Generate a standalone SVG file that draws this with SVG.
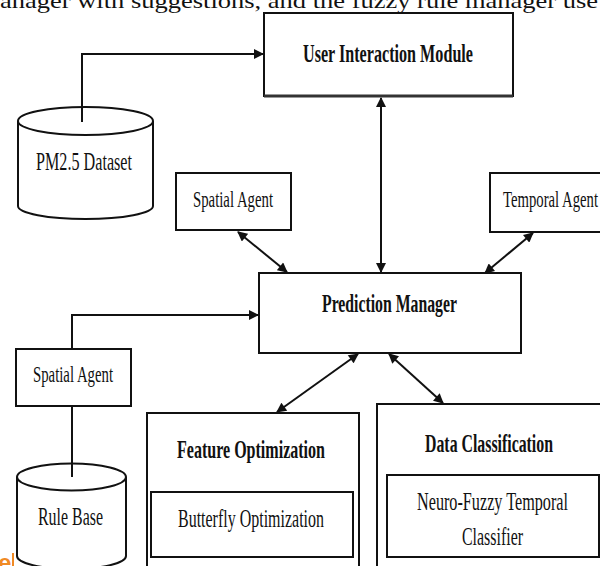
<svg xmlns="http://www.w3.org/2000/svg" width="600" height="566" viewBox="0 0 600 566">
  <style>
    .box { fill: #ffffff; stroke: #111111; stroke-width: 2; }
    .cyl { fill: #ffffff; stroke: #111111; stroke-width: 2; }
    .lbl { font-family: "Liberation Serif", "Times New Roman", serif; fill: #111111; }
    .bold { font-weight: bold; }
    .wire { fill: none; stroke: #111111; stroke-width: 2; }
  </style>
  <defs>
    <marker id="head" viewBox="0 0 10 10" refX="9" refY="5" markerWidth="11" markerHeight="10" markerUnits="userSpaceOnUse" orient="auto-start-reverse">
      <path d="M0,0 L10,5 L0,10 Z" fill="#111111"/>
    </marker>
  </defs>

  <rect width="600" height="566" fill="#ffffff"/>

  <!-- running text line above the figure -->
  <text class="lbl" x="0" y="8" font-size="22" textLength="598" lengthAdjust="spacingAndGlyphs">anager with suggestions, and the fuzzy rule manager use</text>

  <!-- connectors -->
  <g id="connectors">
    <path class="wire" d="M82,122 V54 H263" marker-end="url(#head)"/>
    <line class="wire" x1="381" y1="98" x2="381" y2="272" marker-start="url(#head)" marker-end="url(#head)"/>
    <line class="wire" x1="238" y1="232" x2="287" y2="272" marker-start="url(#head)" marker-end="url(#head)"/>
    <line class="wire" x1="533" y1="233" x2="485" y2="273" marker-start="url(#head)" marker-end="url(#head)"/>
    <line class="wire" x1="358" y1="354" x2="277" y2="412" marker-start="url(#head)" marker-end="url(#head)"/>
    <line class="wire" x1="389" y1="354" x2="443" y2="403" marker-start="url(#head)" marker-end="url(#head)"/>
    <path class="wire" d="M72,349 V315 H258" marker-end="url(#head)"/>
    <line class="wire" x1="72" y1="406" x2="72" y2="477"/>
  </g>

  <g id="user-interaction">
    <rect class="box" x="264" y="13" width="249" height="83"/>
    <line x1="264" y1="96" x2="513" y2="96" stroke="#333333" stroke-width="3"/>
    <text class="lbl bold" x="303" y="62" font-size="26" textLength="170" lengthAdjust="spacingAndGlyphs">User Interaction Module</text>
  </g>

  <g id="pm25-dataset">
    <path class="cyl" d="M18,121 V206 A67.5,13 0 0 0 153,206 V121"/>
    <ellipse class="cyl" cx="85.5" cy="121" rx="67.5" ry="14"/>
    <line class="wire" x1="82" y1="107" x2="82" y2="122"/>
    <text class="lbl" x="36" y="170" font-size="25" textLength="96" lengthAdjust="spacingAndGlyphs">PM2.5 Dataset</text>
  </g>

  <g id="spatial-agent-top">
    <rect class="box" x="176" y="173" width="115" height="57"/>
    <text class="lbl" x="193" y="207" font-size="23" textLength="80" lengthAdjust="spacingAndGlyphs">Spatial Agent</text>
  </g>

  <g id="temporal-agent">
    <rect class="box" x="490" y="173" width="114" height="59"/>
    <text class="lbl" x="503" y="207" font-size="23" textLength="95" lengthAdjust="spacingAndGlyphs">Temporal Agent</text>
  </g>

  <g id="prediction-manager">
    <rect class="box" x="259" y="273" width="262" height="80"/>
    <text class="lbl bold" x="322" y="312" font-size="26" textLength="135" lengthAdjust="spacingAndGlyphs">Prediction Manager</text>
  </g>

  <g id="spatial-agent-left">
    <rect class="box" x="16" y="349" width="115" height="57"/>
    <text class="lbl" x="33" y="382" font-size="23" textLength="80" lengthAdjust="spacingAndGlyphs">Spatial Agent</text>
  </g>

  <g id="rule-base">
    <path class="cyl" d="M17,477 V556 A54.5,13 0 0 0 126,556 V477"/>
    <ellipse class="cyl" cx="71.5" cy="477" rx="54.5" ry="13.5"/>
    <line class="wire" x1="72" y1="463" x2="72" y2="477"/>
    <text class="lbl" x="38" y="525" font-size="25" textLength="65" lengthAdjust="spacingAndGlyphs">Rule Base</text>
  </g>

  <g id="feature-optimization">
    <rect class="box" x="147" y="413" width="212" height="170"/>
    <text class="lbl bold" x="177" y="458" font-size="26" textLength="148" lengthAdjust="spacingAndGlyphs">Feature Optimization</text>
    <rect class="box" x="151" y="492" width="202" height="65"/>
    <text class="lbl" x="178" y="527" font-size="26" textLength="146" lengthAdjust="spacingAndGlyphs">Butterfly Optimization</text>
  </g>

  <g id="data-classification">
    <rect class="box" x="377" y="404" width="230" height="180"/>
    <text class="lbl bold" x="425" y="452" font-size="26" textLength="128" lengthAdjust="spacingAndGlyphs">Data Classification</text>
    <rect class="box" x="387" y="475" width="212" height="82"/>
    <text class="lbl" x="417" y="510" font-size="26" textLength="151" lengthAdjust="spacingAndGlyphs">Neuro-Fuzzy Temporal</text>
    <text class="lbl" x="462" y="545" font-size="26" textLength="61" lengthAdjust="spacingAndGlyphs">Classifier</text>
  </g>

  <!-- orange mark in the lower left corner -->
  <text x="-2" y="571" font-family="Liberation Sans, Arial, sans-serif" font-weight="bold" font-size="24" fill="#f08a24">e</text>
  <rect x="12" y="553" width="2" height="13" fill="#f08a24"/>
</svg>
